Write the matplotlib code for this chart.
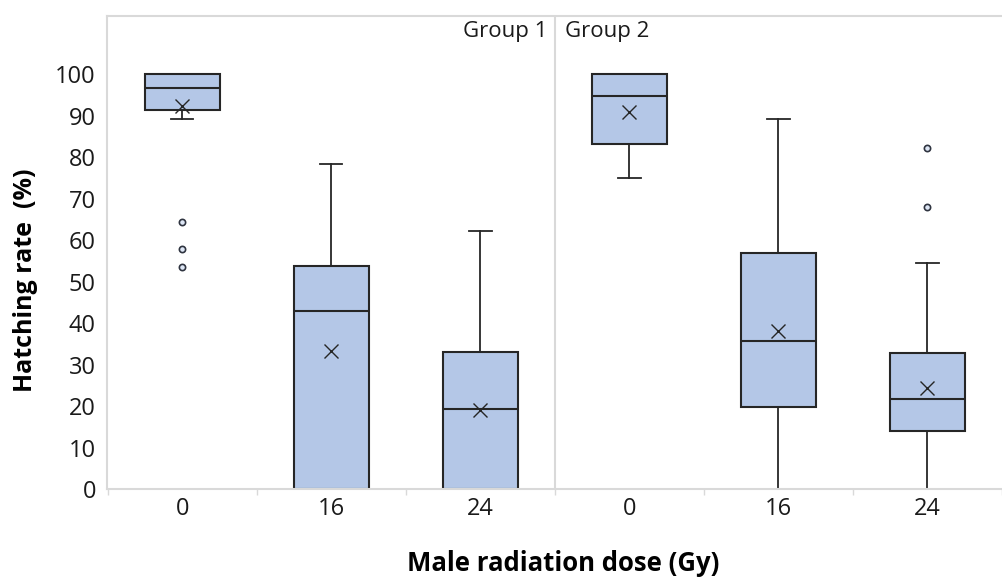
import matplotlib
matplotlib.use('Agg')
import matplotlib.pyplot as plt
import numpy as np

plt.rcParams['font.family'] = ['Open Sans', 'DejaVu Sans']

groups = ['Group 1', 'Group 2']
doses = ['0', '16', '24']

# group 1 then group 2, doses 0 / 16 / 24
q1 = [91.5, 0.0, 0.0, 83.1, 19.7, 14.1]
median = [96.7, 42.9, 19.4, 94.8, 35.7, 21.6]
q3 = [100.0, 53.7, 33.1, 100.0, 57.0, 32.8]
whisker_low = [89.3, 0.0, 0.0, 75.1, 0.0, 0.0]
whisker_high = [100.0, 78.4, 62.2, 100.0, 89.3, 54.5]
means = [92.4, 33.3, 19.0, 90.9, 38.1, 24.3]
outliers = [[64.3, 57.8, 53.6], [], [], [], [], [82.2, 67.9]]

box_color = '#b4c7e7'
edge_color = '#262626'
frame_color = '#d9d9d9'

stats = []
for i in range(len(median)):
	stats.append({'med': median[i], 'q1': q1[i], 'q3': q3[i], 'whislo': whisker_low[i],
	              'whishi': whisker_high[i], 'mean': means[i], 'fliers': outliers[i]})

fig = plt.figure(figsize=(10.02, 5.78), dpi=100)
ax = fig.add_axes([0.1068, 0.154, 0.8932, 0.818])

positions = np.arange(len(stats))
ax.bxp(stats, positions=positions, widths=0.5, patch_artist=True, showmeans=True,
       boxprops=dict(facecolor=box_color, edgecolor=edge_color, linewidth=1.5),
       medianprops=dict(color=edge_color, linewidth=1.5),
       whiskerprops=dict(color=edge_color, linewidth=1.3),
       capprops=dict(color=edge_color, linewidth=1.3), capwidths=0.15,
       meanprops=dict(marker='x', markeredgecolor=edge_color, markersize=10, markeredgewidth=1.0),
       flierprops=dict(marker='o', markerfacecolor='#dde6f5', markeredgecolor='#2f3440',
                       markersize=4.5, markeredgewidth=1.2))

ax.set_xlim(-0.505, 5.44)
ax.set_ylim(0, 114)
ax.set_yticks(np.arange(0, 101, 10))
ax.tick_params(axis='y', length=0, labelsize=17, pad=8, colors='#1a1a1a')
ax.set_xticks(positions, doses * len(groups))
ax.set_xticks(np.arange(-0.5, 5.6, 1), minor=True)
ax.tick_params(axis='x', which='major', length=0, labelsize=17, pad=6, colors='#1a1a1a')
ax.tick_params(axis='x', which='minor', length=4, color=frame_color, width=1)

for side in ['top', 'left', 'bottom']:
	ax.spines[side].set_color(frame_color)
	ax.spines[side].set_linewidth(1.5)
ax.spines['right'].set_visible(False)
ax.axvline(2.5, color=frame_color, linewidth=1.5, zorder=0)

ax.text(2.45, 110.3, groups[0], ha='right', va='center', fontsize=16, color='#1a1a1a')
ax.text(2.57, 110.3, groups[1], ha='left', va='center', fontsize=16, color='#1a1a1a')

ax.set_xlabel('Male radiation dose (Gy)', fontsize=18.5, fontweight='bold')
ax.set_ylabel('Hatching rate  (%)', fontsize=18, fontweight='bold')
ax.xaxis.set_label_coords(0.5095, -0.13)
ax.yaxis.set_label_coords(-0.077, 0.442)

plt.savefig('out.png', dpi=100)
